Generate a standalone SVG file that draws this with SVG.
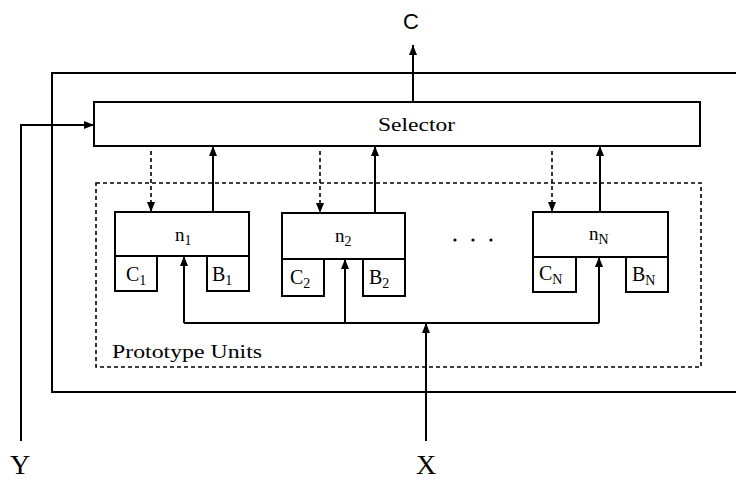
<svg xmlns="http://www.w3.org/2000/svg" width="736" height="481" viewBox="0 0 736 481">
<defs>
<marker id="ah" viewBox="0 0 10 8" refX="10" refY="4" markerWidth="10" markerHeight="8" markerUnits="userSpaceOnUse" orient="auto">
<path d="M0,0 L10,4 L0,8 z" fill="#000"/>
</marker>
</defs>
<style>
.box{fill:#fff;stroke:#000;stroke-width:2}
.ln{fill:none;stroke:#000;stroke-width:2}
.dash{fill:none;stroke:#000;stroke-width:1.6;stroke-dasharray:4,3}
.t{font-family:"Liberation Serif","Times New Roman",serif;font-size:19px;fill:#000}
.lb{font-family:"Liberation Serif","Times New Roman",serif;font-size:20px;fill:#000}
.big{font-family:"Liberation Serif","Times New Roman",serif;font-size:28px;fill:#000}
.c{font-family:"Liberation Sans",Arial,sans-serif;font-size:22px;fill:#000}
.sub{font-size:14px}
</style>
<rect width="736" height="481" fill="#fff"/>
<g id="frame">
<path class="ln" d="M736,73 H52 V392 H736"/>
</g>
<g id="prototype-units">
<rect x="96" y="183" width="605" height="184" class="dash" stroke-width="1.4"/>
<text x="112" y="358" class="t" textLength="150" lengthAdjust="spacingAndGlyphs">Prototype Units</text>
</g>
<g id="selector">
<rect x="94" y="102" width="606" height="44" class="box"/>
<text x="378" y="131" class="t" font-size="20" textLength="77" lengthAdjust="spacingAndGlyphs">Selector</text>
</g>
<g id="unit-1">
<rect x="115" y="212" width="134" height="44" class="box"/>
<rect x="115" y="256" width="42" height="35" class="box"/>
<rect x="207" y="256" width="42" height="35" class="box"/>
<text x="175" y="241" class="t">n<tspan class="sub" dy="4">1</tspan></text>
<text x="126" y="281" class="lb">C<tspan class="sub" dy="4">1</tspan></text>
<text x="212" y="281" class="lb">B<tspan class="sub" dy="4">1</tspan></text>
</g>
<g id="unit-2">
<rect x="282" y="213" width="123" height="46" class="box"/>
<rect x="282" y="259" width="42" height="37" class="box"/>
<rect x="363" y="259" width="42" height="37" class="box"/>
<text x="335" y="242" class="t">n<tspan class="sub" dy="4">2</tspan></text>
<text x="290" y="284" class="lb">C<tspan class="sub" dy="4">2</tspan></text>
<text x="369" y="284" class="lb">B<tspan class="sub" dy="4">2</tspan></text>
</g>
<g id="ellipsis">
<circle cx="455" cy="240" r="1.6" fill="#000"/>
<circle cx="473" cy="240" r="1.6" fill="#000"/>
<circle cx="491" cy="240" r="1.6" fill="#000"/>
</g>
<g id="unit-N">
<rect x="533" y="212" width="135" height="45" class="box"/>
<rect x="533" y="257" width="43" height="35" class="box"/>
<rect x="626" y="257" width="42" height="35" class="box"/>
<text x="589" y="240" class="t">n<tspan class="sub" dy="4">N</tspan></text>
<text x="539" y="280" class="lb">C<tspan class="sub" dy="4">N</tspan></text>
<text x="632" y="281" class="lb">B<tspan class="sub" dy="4">N</tspan></text>
</g>
<g id="labels">
<text x="411" y="29" class="c" text-anchor="middle">C</text>
<text x="20" y="474" class="big" text-anchor="middle">Y</text>
<text x="426" y="474" class="big" text-anchor="middle">X</text>
</g>
<g id="connectors">
<path class="ln" d="M413,102 V45" marker-end="url(#ah)"/>
<path class="ln" d="M21,441 V125 H94" marker-end="url(#ah)"/>
<path class="dash" d="M151,151 V212" marker-end="url(#ah)"/>
<path class="ln" d="M213,212 V146" marker-end="url(#ah)"/>
<path class="dash" d="M320,151 V213" marker-end="url(#ah)"/>
<path class="ln" d="M375,213 V146" marker-end="url(#ah)"/>
<path class="dash" d="M552,151 V212" marker-end="url(#ah)"/>
<path class="ln" d="M600,212 V146" marker-end="url(#ah)"/>
<path class="ln" d="M184,323 H599"/>
<path class="ln" d="M184,323 V256" marker-end="url(#ah)"/>
<path class="ln" d="M345,323 V259" marker-end="url(#ah)"/>
<path class="ln" d="M599,323 V257" marker-end="url(#ah)"/>
<path class="ln" d="M426,441 V323" marker-end="url(#ah)"/>
</g>
</svg>
